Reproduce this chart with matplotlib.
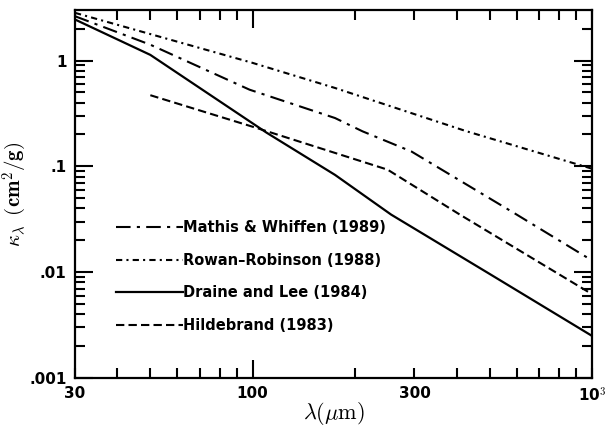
import matplotlib
matplotlib.use("Agg")
import matplotlib.pyplot as plt
from matplotlib.ticker import FixedLocator, FuncFormatter, NullFormatter

plt.rcParams['mathtext.fontset'] = 'cm'

# wavelength (micron) and opacity (cm^2/g)
mw_lam = [30, 50, 98, 175, 211, 294, 600, 1000]
mw_kap = [2.62, 1.41, 0.53, 0.286, 0.214, 0.138, 0.035, 0.0129]

rr_lam = [30, 100, 175, 426, 1000]
rr_kap = [2.82, 0.95, 0.55, 0.215, 0.095]

dl_lam = [30, 50, 110, 175, 256, 500, 1000]
dl_kap = [2.44, 1.13, 0.208, 0.083, 0.035, 0.0096, 0.0025]

hb_lam = [50, 103, 250, 408, 1000]
hb_kap = [0.47, 0.23, 0.093, 0.035, 0.0062]

labels = ['Mathis & Whiffen (1989)', 'Rowan\u2013Robinson (1988)',
          'Draine and Lee (1984)', 'Hildebrand (1983)']

fig = plt.figure(figsize=(6.05, 4.26), dpi=100)
ax = fig.add_axes([0.124, 0.1127, 0.8545, 0.8638])

ax.plot(mw_lam, mw_kap, color='black', lw=1.5, ls=(0, (7, 3, 1.5, 3)), label=labels[0])
ax.plot(rr_lam, rr_kap, color='black', lw=1.5, ls=(0, (3, 2, 1, 2)), label=labels[1])
ax.plot(dl_lam, dl_kap, color='black', lw=1.6, ls='-', label=labels[2])
ax.plot(hb_lam, hb_kap, color='black', lw=1.5, ls=(0, (4, 2)), label=labels[3])

ax.set_xscale('log')
ax.set_yscale('log')
ax.set_xlim(30, 1000)
ax.set_ylim(0.001, 3)

# x ticks: only 100 is long, labels on 30, 300, 10^3
ax.xaxis.set_major_locator(FixedLocator([100]))
ax.xaxis.set_major_formatter(FuncFormatter(lambda v, p: '100'))
xminor = [30, 40, 50, 60, 70, 80, 90, 200, 300, 400, 500, 600, 700, 800, 900, 1000]
ax.xaxis.set_minor_locator(FixedLocator(xminor))
xlab = {30: '30', 300: '300', 1000: r'10$^{\mathbf{3}}$'}
ax.xaxis.set_minor_formatter(FuncFormatter(lambda v, p: xlab.get(int(round(v)), '')))

ax.yaxis.set_major_locator(FixedLocator([0.001, 0.01, 0.1, 1]))
ylab = {0.001: '.001', 0.01: '.01', 0.1: '.1', 1: '1'}
ax.yaxis.set_major_formatter(FuncFormatter(lambda v, p: ylab.get(round(v, 4), '')))
yminor = [m * d for d in [0.001, 0.01, 0.1, 1] for m in range(2, 10) if m * d < 3]
ax.yaxis.set_minor_locator(FixedLocator(yminor))
ax.yaxis.set_minor_formatter(NullFormatter())

ax.tick_params(which='both', direction='in', top=True, right=True, width=1.5,
               labelsize=11, pad=6)
ax.tick_params(which='major', length=13)
ax.tick_params(which='minor', length=7)
for lab in ax.get_xticklabels(which='both') + ax.get_yticklabels():
    lab.set_fontweight('bold')
for s in ax.spines.values():
    s.set_linewidth(1.6)

ax.set_xlabel(r'$\lambda(\mu\mathrm{m})$', fontsize=16, labelpad=-3)
ax.set_ylabel(r'$\kappa_\lambda\;\;(\mathbf{cm}^\mathbf{2}/\mathbf{g})$', fontsize=15, labelpad=0)

leg = ax.legend(loc='upper left', bbox_to_anchor=(0.0785, 0.428), frameon=False,
                handlelength=4.6, handletextpad=0.0, labelspacing=1.2,
                borderpad=0, borderaxespad=0,
                prop={'weight': 'bold', 'size': 10.5})

fig.savefig('out.png', dpi=100)
